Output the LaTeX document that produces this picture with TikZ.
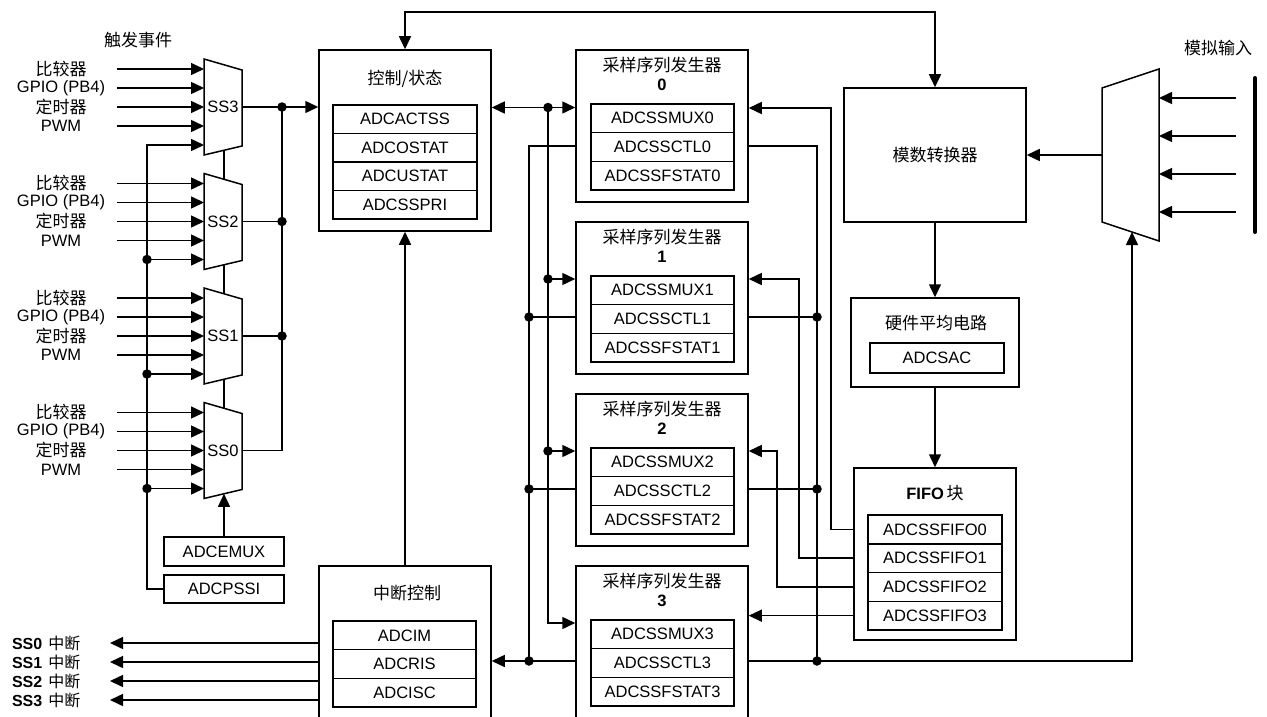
\documentclass[tikz,border=0pt]{standalone}
\usepackage{fontspec}
\setmainfont{Liberation Sans}
\newfontfamily\cjk{Noto Sans CJK SC}
\usetikzlibrary{arrows.meta}
\newcommand\latf{\fontsize{16.5}{19}\selectfont}
\newcommand\cjkf{\cjk\fontsize{17}{19}\selectfont}
\begin{document}
\begin{tikzpicture}[x=1pt,y=-1pt,line width=1.5pt,
  >={Triangle[length=13pt,width=12pt]},
  frame/.style={draw,inner sep=0pt},
  reg/.style={draw,inner sep=0pt,minimum height=28.6pt,font=\latf},
  ttl/.style={inner sep=0pt,font=\cjkf},
  lat/.style={inner sep=0pt,font=\latf},
  dot/.style={circle,fill,inner sep=0pt,minimum size=9.5pt}]
\useasboundingbox (0,0) rectangle (1267,717);
\clip (0,0) rectangle (1267,717);

% ---------- control / status ----------
\node[frame,minimum width=172pt,minimum height=181pt] (ctrl) at (405,140.5) {};
\node[ttl] (ctrlT) at (405,79) {控制/状态};
\foreach \t [count=\i] in {ADCACTSS,ADCOSTAT,ADCUSTAT,ADCSSPRI}
  \node[reg,minimum width=144pt] (ctrl\i) at (405,90.75+28.5*\i) {\t};

% ---------- interrupt control ----------
\node[frame,minimum width=172pt,minimum height=174pt] (intc) at (405,653) {};
\node[ttl] (intcT) at (407,593) {中断控制};
\foreach \t [count=\i] in {ADCIM,ADCRIS,ADCISC}
  \node[reg,minimum width=143pt,minimum height=28.67pt] (intc\i) at (404.5,606.67+28.67*\i) {\t};

% ---------- sample sequencers ----------
\foreach \k/\T in {0/50,1/222,2/394,3/566} {
  \node[frame,minimum width=172pt,minimum height=152pt] (ss\k) at (662,\T+76) {};
  \node[ttl] (ssT\k) at (662,\T+15) {采样序列发生器};
  \node[lat,font=\latf\bfseries] (ssN\k) at (662,\T+35) {\k};
  \node[reg,minimum width=143pt,minimum height=28.67pt] (smux\k) at (662.5,\T+68.3) {ADCSSMUX\k};
  \node[reg,minimum width=143pt,minimum height=28.67pt] (sctl\k) at (662.5,\T+97) {ADCSSCTL\k};
  \node[reg,minimum width=143pt,minimum height=28.67pt] (sfst\k) at (662.5,\T+125.7) {ADCSSFSTAT\k};
}

% ---------- ADC, averaging, FIFO ----------
\node[frame,minimum width=182pt,minimum height=134pt,font=\cjkf] (adc) at (935,155) {模数转换器};
\node[frame,minimum width=168pt,minimum height=89pt] (avg) at (935,342.5) {};
\node[ttl] (avgT) at (936,323) {硬件平均电路};
\node[reg,minimum width=134pt,minimum height=30pt] (sac) at (937,358) {ADCSAC};
\node[frame,minimum width=162pt,minimum height=172pt] (fifo) at (935,554) {};
\node[inner sep=0pt] (fifoT) at (935,493) {{\latf\bfseries FIFO} {\cjkf 块}};
\foreach \i in {0,1,2,3}
  \node[reg,minimum width=134pt,minimum height=28.75pt] (fifo\i) at (935,529.4+28.75*\i) {ADCSSFIFO\i};

% ---------- ADCEMUX / ADCPSSI ----------
\node[reg,minimum width=120pt,minimum height=29pt] (emux) at (224,551.5) {ADCEMUX};
\node[reg,minimum width=120pt,minimum height=28pt] (pssi) at (224,589) {ADCPSSI};

% ---------- trigger muxes ----------
\node[ttl] (trig) at (138,40) {触发事件};
\foreach \k/\t in {3/59,2/173.5,1/288,0/402.5} {
  \draw (204,\t) -- (242,\t+11) -- (242,\t+87) -- (204,\t+96) -- cycle;
  \node[lat] (m\k) at (223,\t+48) {SS\k};
  \coordinate (m\k-o) at (242,\t+48);
  \coordinate (m\k-top) at (224,\t+5.8);
  \coordinate (m\k-bot) at (224,\t+91.3);
  \foreach \j in {1,...,5} \coordinate (m\k-i\j) at (204,\t-9+19*\j);
  \node[ttl] (la\k) at (61,\t+10) {比较器};
  \node[lat] (lb\k) at (61,\t+29) {GPIO (PB4)};
  \node[ttl] (lc\k) at (61,\t+48) {定时器};
  \node[lat] (ld\k) at (61,\t+67) {PWM};
  \foreach \j in {1,...,4} \draw[->] (117,\t-9+19*\j) -- (m\k-i\j);
}
\draw (m3-bot) -- (m2-top);
\draw (m2-bot) -- (m1-top);
\draw (m1-bot) -- (m0-top);
\draw[->] (emux.north) -- (m0-bot);

% outputs of muxes to control
\coordinate (b3) at (282,107);
\draw[->] (m3-o) -- (ctrl.west |- b3);
\draw (m2-o) -- (282,221.5);
\draw (m1-o) -- (282,336);
\draw (m0-o) -| (b3);
\node[dot] at (b3) {};
\node[dot] at (282,221.5) {};
\node[dot] at (282,336) {};

% ADCPSSI bus
\draw[->] (pssi.west) -| (147,145) -- (m3-i5);
\foreach \k/\y in {2/259.5,1/374,0/488.5} {
  \draw[->] (147,\y) -- (m\k-i5);
  \node[dot] at (147,\y) {};
}

% ---------- middle connections ----------
\coordinate (jA) at (548,107.5);
\draw[<->] (ctrl.east |- jA) -- (ss0.west |- jA);
\node[dot] at (jA) {};
\draw[->] (jA) |- (ss3.west |- 0,623);
\draw[->] (548,279) -- (ss1.west |- 0,279);
\draw[->] (548,451) -- (ss2.west |- 0,451);
\node[dot] at (548,279) {};
\node[dot] at (548,451) {};

\draw (ss0.west |- 0,146) -| (529,661);
\draw (ss1.west |- 0,317) -- (529,317);
\draw (ss2.west |- 0,489) -- (529,489);
\draw[->] (ss3.west |- 0,661) -- (intc.east |- 0,661);
\node[dot] at (529,317) {};
\node[dot] at (529,489) {};
\node[dot] at (529,661) {};

% analog mux
\draw (1102,88) -- (1159,69) -- (1159,241) -- (1102,222) -- cycle;
\coordinate (amux-o) at (1102,155);
\coordinate (amux-b) at (1132,232);

\draw (ss0.east |- 0,146) -| (817,661);
\draw (ss1.east |- 0,317) -- (817,317);
\draw (ss2.east |- 0,489) -- (817,489);
\draw[->] (ss3.east |- 0,661) -| (amux-b);
\node[dot] at (817,317) {};
\node[dot] at (817,489) {};
\node[dot] at (817,661) {};

% FIFO to sequencers
\draw[->] (fifo.west |- fifo0) -| (831,108) -- (ss0.east |- 0,108);
\draw[->] (fifo.west |- fifo1) -| (799,279) -- (ss1.east |- 0,279);
\draw[->] (fifo.west |- fifo2) -| (777,451) -- (ss2.east |- 0,451);
\draw[->] (fifo.west |- fifo3) -- (ss3.east |- fifo3);

% top link, vertical links
\draw[<->] (ctrl.north) -- (405,12) -| (adc.north);
\draw[->] (intc.north) -- (ctrl.south);
\draw[->] (adc.south) -- (avg.north);
\draw[->] (avg.south) -- (fifo.north);

% analog inputs
\draw[->] (amux-o) -- (adc.east |- amux-o);
\foreach \y in {98,136,174,212} \draw[->] (1236,\y) -- (1159,\y);
\draw[line width=4pt,line cap=round] (1255,78) -- (1255,232);
\node[ttl] (ain) at (1218,48) {模拟输入};

% interrupt outputs
\foreach \i/\y in {0/643,1/662,2/681,3/700} {
  \draw[->] (intc.west |- 0,\y) -- (110,\y);
  \node[anchor=east,inner sep=0pt] (irq\i) at (81,\y) {{\fontsize{16}{18}\selectfont\bfseries SS\i}\hspace{6pt}{\cjk\fontsize{16}{18}\selectfont 中断}};
}
\end{tikzpicture}
\end{document}
